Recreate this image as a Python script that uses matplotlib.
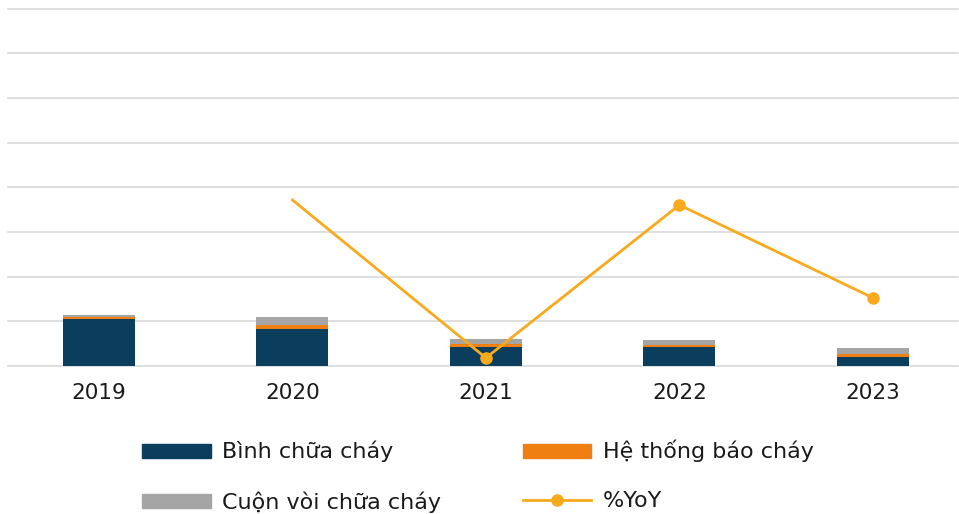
import matplotlib.pyplot as plt
from matplotlib.patches import Patch
from matplotlib.lines import Line2D
import numpy as np

plt.rcParams['font.family'] = ['DejaVu Sans']

years = ['2019', '2020', '2021', '2022', '2023']
binh = [105, 83, 43, 43, 20]       # Bình chữa cháy
bao_chay = [4.5, 9, 7, 5, 7]       # Hệ thống báo cháy
cuon_voi = [4.5, 18, 10, 10, 13]   # Cuộn vòi chữa cháy
yoy = [None, -5, -46, -6.3, -30.4]  # %YoY

c_navy = '#0B3D5C'
c_orange = '#EE7F10'
c_gray = '#A5A5A5'
c_line = '#F9AA1C'

W, H = 959, 514
fig = plt.figure(figsize=(W / 100, H / 100), dpi=100)
ax = fig.add_axes([8 / W, 1 - 366 / H, 950 / W, (366 - 8.5) / H])

x = np.arange(len(years))
bw = 0.372
b1 = np.array(binh)
b2 = np.array(bao_chay)
b3 = np.array(cuon_voi)
ax.bar(x, b1, bw, color=c_navy, zorder=2)
ax.bar(x, b2, bw, bottom=b1, color=c_orange, zorder=2)
ax.bar(x, b3, bw, bottom=b1 + b2, color=c_gray, zorder=2)

ax.set_ylim(0, 800)
ax.set_yticks(np.arange(0, 801, 100))
ax.yaxis.grid(True, color='#D9D9D9', linewidth=1.2, zorder=0)
ax.set_axisbelow(True)
ax.set_xticks(x)
ax.set_xticklabels(years)
ax.set_xlim(-0.470, 4.440)
for s in ax.spines.values():
    s.set_visible(False)

ax2 = ax.twinx()
yx = [i for i, v in enumerate(yoy) if v is not None]
yv = [v for v in yoy if v is not None]
ax2.plot(yx, yv, color=c_line, linewidth=2, marker='o', markersize=8,
         markevery=list(range(1, len(yv))), zorder=3)
ax2.set_ylim(-48.1, 44.7)
ax2.axis('off')

# twinx turns the left ticks back on, so hide them here
ax.tick_params(axis='y', left=False, right=False, labelleft=False)
ax.tick_params(axis='x', bottom=False, labelsize=15.5, pad=9, colors='#1a1a1a')
# keep top and bottom grid lines full width
for gl in ax.yaxis.get_gridlines():
    gl.set_clip_on(False)

handles = [
    Patch(color=c_navy, label='Bình chữa cháy'),
    Patch(color=c_gray, label='Cuộn vòi chữa cháy'),
    Patch(color=c_orange, label='Hệ thống báo cháy'),
    Line2D([], [], color=c_line, linewidth=2, marker='o', markersize=8, label='%YoY'),
]
fig.legend(handles=handles, ncol=2, loc='upper left', bbox_to_anchor=(122 / W, 1 - 420 / H),
           frameon=False, fontsize=16, handlelength=3.1, handleheight=0.6,
           handletextpad=0.5, columnspacing=3.67, labelspacing=1.3,
           labelcolor='#1a1a1a')

fig.savefig('out.png', dpi=100)
